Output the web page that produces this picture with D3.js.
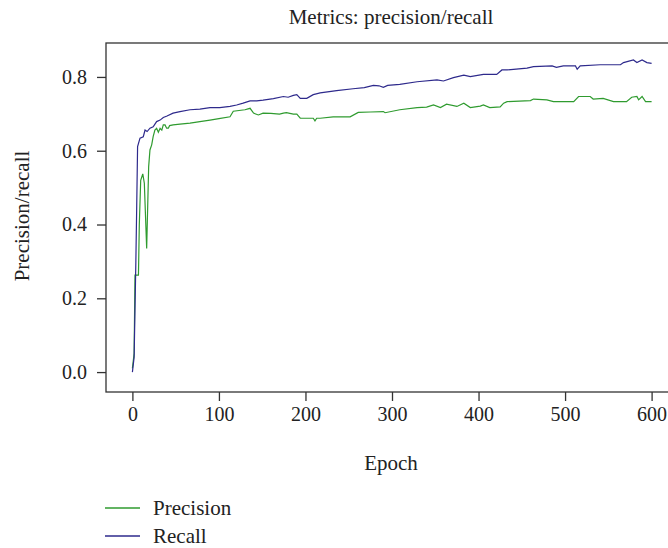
<!DOCTYPE html>
<html>
<head>
<meta charset="utf-8">
<script src="https://cdn.jsdelivr.net/npm/d3@7"></script>
<style>
  body { margin:0; background:#fff; }
  text { font-family:"Liberation Serif","DejaVu Serif",serif; fill:#222; }
</style>
</head>
<body>
<svg></svg>
<script>

// values
var precisionEpoch = [0,2,3,7,8,9.6,12,13.8,16.5,18.8,20.3,22.3,24,26,28,30,32,34,35.7,37.7,39.6,41.5,43,47,55,66.6,78,89.7,100,112.8,116.6,130,136,140,145.6,151,160,170,174.5,178,186,190,194,205,209,211,213,217,232,251.6,261,275,290,292,309,329,340,348,356,363,375,383,390.5,402,405.6,413,425,429,433,460,463.5,479,486.6,510,515.6,529,532.5,544,556,571,577,583,585,589,593,600];
var precisionValue = [0.01,0.05,0.263,0.263,0.40,0.52,0.537,0.512,0.335,0.557,0.602,0.616,0.638,0.656,0.661,0.650,0.661,0.656,0.67,0.67,0.661,0.661,0.668,0.67,0.672,0.675,0.679,0.683,0.687,0.692,0.707,0.711,0.715,0.702,0.697,0.702,0.701,0.699,0.702,0.703,0.699,0.699,0.688,0.688,0.688,0.681,0.688,0.688,0.692,0.692,0.704,0.705,0.706,0.703,0.711,0.717,0.718,0.724,0.717,0.726,0.72,0.729,0.717,0.721,0.724,0.717,0.719,0.729,0.733,0.736,0.74,0.738,0.733,0.733,0.747,0.747,0.74,0.742,0.733,0.733,0.745,0.747,0.738,0.747,0.733,0.733];

var recallEpoch = [0,2,4,5,6,8.8,12.6,14.6,17,20.3,24,28,32,35.7,40,47,55,66.6,78,89.7,101,112.8,120.5,128,136,143.7,151,163,174.5,180,186,190,194,201.5,209,217,236,255,268,278.5,285,290,295,309,329,352,359.5,371,383,390.5,405.6,421,427,433,456,463.5,485,490,498,512,514,517.5,540.6,564,567.5,579,583,589,594.6,600];
var recallValue = [0.0,0.04,0.3,0.45,0.611,0.634,0.638,0.656,0.652,0.661,0.665,0.679,0.683,0.69,0.694,0.702,0.706,0.711,0.713,0.717,0.717,0.72,0.724,0.729,0.735,0.735,0.737,0.741,0.747,0.745,0.75,0.752,0.742,0.742,0.752,0.757,0.763,0.768,0.771,0.777,0.776,0.772,0.777,0.78,0.787,0.792,0.789,0.798,0.805,0.801,0.807,0.807,0.819,0.819,0.824,0.828,0.83,0.826,0.83,0.83,0.821,0.83,0.833,0.833,0.839,0.846,0.839,0.846,0.839,0.837];

var xTicks = [0,100,200,300,400,500,600];
var yTicks = [0.0,0.2,0.4,0.6,0.8];

var seriesNames = ["Precision","Recall"];
var seriesColors = ["#2f9b2f","#2e2a8c"];

var screen = {width:668, height:548};
var box = {left:106, top:43, right:678, bottom:392};

var svg = d3.select("svg").attr("width",screen.width).attr("height",screen.height);

var xScale = d3.scaleLinear().domain([-30.5,630.5]).range([box.left,box.right]);
var yScale = d3.scaleLinear().domain([-0.054,0.892]).range([box.bottom,box.top]);

var series = [
  d3.zip(precisionEpoch,precisionValue),
  d3.zip(recallEpoch,recallValue)
];

var line = d3.line()
  .x(function(d){return xScale(d[0]);})
  .y(function(d){return yScale(d[1]);});

svg.selectAll("path.series")
  .data(series)
  .enter()
  .append("path")
  .attr("class","series")
  .attr("d",line)
  .attr("fill","none")
  .attr("stroke",function(d,i){return seriesColors[i];})
  .attr("stroke-width",1.2);

// box
svg.append("rect")
  .attr("x",box.left).attr("y",box.top)
  .attr("width",box.right-box.left).attr("height",box.bottom-box.top)
  .attr("fill","none").attr("stroke","#333").attr("stroke-width",1.3);

var styleAxis = function(g){
  g.select(".domain").remove();
  g.selectAll("line").attr("stroke","#333").attr("stroke-width",1.3);
  g.selectAll("text").attr("font-size",20).style("font-family","Liberation Serif").attr("fill","#222");
};

var xAxis = d3.axisBottom(xScale).tickValues(xTicks).tickSize(9).tickPadding(6)
  .tickFormat(d3.format("d"));
svg.append("g")
  .attr("transform","translate(0,"+box.bottom+")")
  .call(xAxis)
  .call(styleAxis);

var yAxis = d3.axisLeft(yScale).tickValues(yTicks).tickSize(9).tickPadding(10)
  .tickFormat(d3.format(".1f"));
svg.append("g")
  .attr("transform","translate("+box.left+",0)")
  .call(yAxis)
  .call(styleAxis);

svg.append("text")
  .attr("x",391).attr("y",24)
  .attr("text-anchor","middle").attr("font-size",21)
  .text("Metrics: precision/recall");

svg.append("text")
  .attr("x",391).attr("y",470)
  .attr("text-anchor","middle").attr("font-size",21)
  .text("Epoch");

svg.append("text")
  .attr("transform","translate(29,216) rotate(-90)")
  .attr("text-anchor","middle").attr("font-size",21)
  .text("Precision/recall");

// legend
var legend = svg.selectAll("g.legend")
  .data(seriesNames)
  .enter()
  .append("g")
  .attr("class","legend")
  .attr("transform",function(d,i){return "translate(105,"+(508+i*28)+")";});

legend.append("line")
  .attr("x1",0).attr("x2",35).attr("y1",0).attr("y2",0)
  .attr("stroke",function(d,i){return seriesColors[i];})
  .attr("stroke-width",1.3);

legend.append("text")
  .attr("x",48).attr("y",7)
  .attr("font-size",21)
  .text(function(d){return d;});

</script>
</body>
</html>
